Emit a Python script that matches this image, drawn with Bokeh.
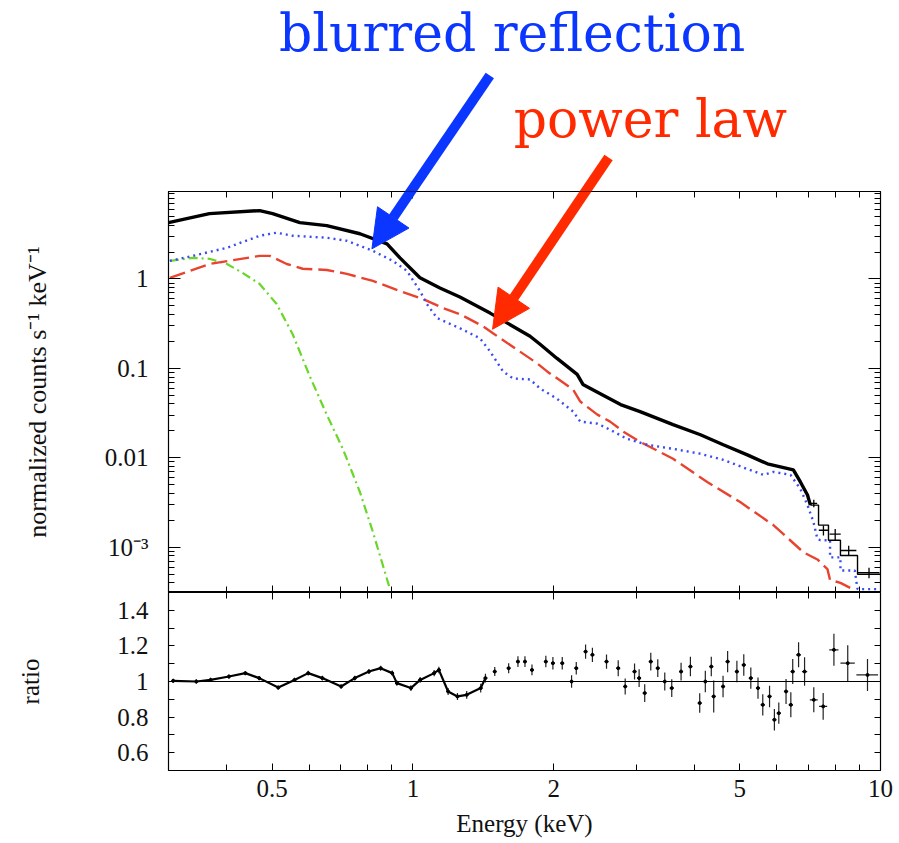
import math
from bokeh.plotting import figure
from bokeh.layouts import column
from bokeh.models import FixedTicker, LogAxis, LinearAxis, Span, Label, Arrow, NormalHead, Range1d
from bokeh.embed import file_html
from bokeh.resources import INLINE

# ---------------- data ----------------
spec_energy = [0.30, 0.367, 0.470, 0.501, 0.573, 0.654, 0.770, 0.880, 0.938, 1.035, 1.142, 1.26,
               1.462, 1.78, 1.87, 2.03, 2.245, 2.31, 2.51, 2.78, 3.06, 3.60, 4.12, 4.61, 5.19,
               5.73, 6.51, 6.74, 6.98, 7.08]
spec_flux = [4.26, 5.38, 5.81, 5.38, 4.26, 3.94, 3.20, 2.47, 1.72, 1.03, 0.792, 0.628,
             0.415, 0.229, 0.186, 0.130, 0.0857, 0.0661, 0.0524, 0.0394, 0.0329, 0.0235, 0.0181, 0.0140, 0.0108,
             0.00857, 0.00733, 0.00537, 0.00384, 0.00296]
hi_edges = [7.08, 7.37, 7.74, 8.21, 8.93, 10.0]
hi_model = [0.00296, 0.00177, 0.00120, 0.00081, 0.00050]
hi_energy = [7.20, 7.55, 8.00, 8.55, 9.45]
hi_flux = [0.0031, 0.00155, 0.00140, 0.00092, 0.00052]
hi_ferr = [0.0003, 0.00020, 0.00020, 0.00012, 0.00007]
hi_xerr = [0.12, 0.17, 0.22, 0.33, 0.50]

blue_energy = [0.302, 0.338, 0.400, 0.470, 0.511, 0.553, 0.654, 0.722, 0.821, 0.906, 0.971, 1.035,
               1.071, 1.126, 1.26, 1.391, 1.462, 1.558, 1.637, 1.78, 1.87, 2.03, 2.20, 2.28, 2.48,
               2.64, 2.87, 3.17, 3.60, 4.12, 4.61, 5.19, 5.62, 5.90, 6.42, 6.74, 6.98, 7.19, 7.33,
               7.44, 7.80, 7.80, 8.21, 8.21, 8.81, 8.93, 10.0]
blue_flux = [1.59, 1.81, 2.23, 3.04, 3.29, 3.04, 2.89, 2.67, 2.06, 1.59, 1.23, 0.733,
             0.524, 0.365, 0.281, 0.217, 0.155, 0.0925, 0.0772, 0.0752, 0.0596, 0.046, 0.0329, 0.0254, 0.0241,
             0.0206, 0.0163, 0.0140, 0.0126, 0.0111, 0.0095, 0.0075, 0.00644, 0.00697, 0.00644, 0.00449, 0.00296,
             0.00191, 0.00123, 0.0012, 0.0012, 0.00077, 0.00077, 0.00055, 0.00055, 0.00034, 0.00034]

red_energy = [0.302, 0.367, 0.470, 0.494, 0.537, 0.581, 0.654, 0.722, 0.821, 0.938, 1.05, 1.16, 1.26,
              1.412, 1.483, 1.843, 1.936, 2.20, 2.28, 2.48, 2.64, 2.82, 3.06, 3.60, 4.26, 5.01, 5.90,
              6.84, 7.33, 7.70, 7.80, 8.21, 8.63]
red_flux = [1.03, 1.47, 1.81, 1.81, 1.47, 1.30, 1.26, 1.14, 0.95, 0.733, 0.596, 0.472, 0.404,
            0.296, 0.247, 0.114, 0.0925, 0.058, 0.0426, 0.0304, 0.0254, 0.0196, 0.0151, 0.00975, 0.00537,
            0.0032, 0.00177, 0.00088, 0.00073, 0.00057, 0.00043, 0.00040, 0.00035]

green_energy = [0.302, 0.338, 0.367, 0.400, 0.432, 0.470, 0.511, 0.553, 0.602, 0.654, 0.708, 0.770, 0.821, 0.893]
green_flux = [1.59, 1.72, 1.68, 1.47, 1.17, 0.879, 0.524, 0.241, 0.081, 0.0304, 0.0126, 0.00415, 0.00148, 0.00034]

ratio_energy = [0.307, 0.344, 0.369, 0.404, 0.438, 0.469, 0.515, 0.558, 0.597, 0.640, 0.702, 0.751, 0.805,
                0.853, 0.903, 0.924, 0.990, 1.036, 1.110, 1.136, 1.189, 1.245, 1.303, 1.396, 1.429,
                1.496, 1.602, 1.677, 1.736, 1.797, 1.924, 1.992, 2.086, 2.184, 2.235, 2.34, 2.42,
                2.594, 2.748, 2.844, 2.978, 3.046, 3.131, 3.226, 3.339, 3.456, 3.577, 3.745, 3.921, 4.105,
                4.22, 4.346, 4.398, 4.605, 4.71, 4.93, 5.10, 5.28, 5.47, 5.60, 5.79, 5.93, 6.06, 6.28, 6.43, 6.49,
                6.68, 6.88, 7.20, 7.54, 7.95, 8.51, 9.38]
ratio_value = [1.004, 1.0, 1.009, 1.028, 1.047, 1.019, 0.966, 1.009, 1.047, 1.019, 0.972, 1.019, 1.056,
               1.075, 1.047, 0.991, 0.963, 1.009, 1.047, 1.065, 0.944, 0.916, 0.925, 0.963, 1.019,
               1.056, 1.075, 1.112, 1.112, 1.065, 1.112, 1.103, 1.103, 1.0, 1.075, 1.168, 1.15,
               1.112, 1.075, 0.972, 1.056, 1.019, 0.935, 1.112, 1.075, 1.0, 0.963, 1.056, 1.084, 0.879,
               1.0, 1.084, 0.916, 0.972, 1.112, 1.056, 1.093, 1.019, 0.963, 0.869, 0.916, 0.785, 0.822, 0.944,
               0.869, 1.056, 1.15, 1.056, 0.897, 0.86, 1.178, 1.103, 1.037]
ratio_err = [0.012, 0.012, 0.012, 0.012, 0.012, 0.012, 0.012, 0.012, 0.013, 0.013, 0.013, 0.014, 0.014,
             0.014, 0.015, 0.015, 0.016, 0.016, 0.018, 0.018, 0.02, 0.02, 0.022, 0.025, 0.025,
             0.025, 0.028, 0.03, 0.03, 0.03, 0.032, 0.035, 0.035, 0.035, 0.035, 0.04, 0.04,
             0.04, 0.045, 0.045, 0.045, 0.05, 0.05, 0.05, 0.05, 0.05, 0.05, 0.05, 0.055, 0.055,
             0.06, 0.055, 0.09, 0.06, 0.06, 0.06, 0.06, 0.06, 0.06, 0.06, 0.06, 0.06, 0.06, 0.07, 0.07, 0.07,
             0.07, 0.08, 0.07, 0.075, 0.09, 0.1, 0.09]
ratio_xerr = [0.003, 0.003, 0.003, 0.004, 0.004, 0.004, 0.005, 0.005, 0.005, 0.006, 0.006, 0.007, 0.007,
              0.008, 0.008, 0.008, 0.009, 0.009, 0.010, 0.010, 0.011, 0.011, 0.012, 0.013, 0.013,
              0.014, 0.015, 0.016, 0.016, 0.017, 0.018, 0.019, 0.02, 0.02, 0.021, 0.022, 0.023,
              0.025, 0.027, 0.028, 0.03, 0.03, 0.031, 0.032, 0.033, 0.034, 0.036, 0.037, 0.039, 0.041,
              0.043, 0.044, 0.045, 0.047, 0.048, 0.05, 0.052, 0.054, 0.056, 0.058, 0.06, 0.062, 0.064, 0.066,
              0.068, 0.07, 0.08, 0.09, 0.14, 0.15, 0.18, 0.30, 0.50]

x_major = [0.5, 1, 2, 5, 10]
x_minor = [0.3, 0.4, 0.6, 0.7, 0.8, 0.9, 3, 4, 6, 7, 8, 9]
x_labels = {0.5: "0.5", 1: "1", 2: "2", 5: "5", 10: "10"}
y_major = [0.001, 0.01, 0.1, 1]
y_minor = [m * 10.0 ** e for e in range(-4, 1) for m in range(2, 10)]
y_labels = {0.001: "10\u207b\u00b3", 0.01: "0.01", 0.1: "0.1", 1: "1"}
r_major = [0.6, 0.8, 1.0, 1.2, 1.4]
r_minor = [0.5, 0.7, 0.9, 1.1, 1.3, 1.5]
r_labels = {0.6: "0.6", 0.8: "0.8", 1.0: "1", 1.2: "1.2", 1.4: "1.4"}

# call-outs (positions in data units: keV, counts s^-1 keV^-1)
ann_blue = dict(text="blurred reflection", x=1.63, y=581.0, tail=(1.46, 191.0), tip=(0.817, 2.17))
ann_red = dict(text="power law", x=3.22, y=62.8, tail=(2.62, 22.9), tip=(1.48, 0.274))

# ---------------- styles / layout ----------------
SERIF = "Liberation Serif"
ANN_FONT = "DejaVu Serif"
TICK_FS = "25px"
LABEL_FS = "25px"
C_BLUE = "#3a4cf0"
C_RED = "#e8432e"
C_GREEN = "#6ad62a"
C_ANN_BLUE = "#0a36ff"
C_ANN_RED = "#ff2a00"
TEXT_C = "#111111"

W = 899
BORDER_L, BORDER_R = 168, 19
ANN_H = 191          # call-out strip above the spectrum panel
TOP_FRAME_H = 399    # spectrum panel frame height
FLUX_MIN, FLUX_MAX = 3.12e-4, 9.5


def style_axis(ax, ticks, minor, labels=None, show_labels=True, major_in=10, minor_in=5):
    ax.ticker = FixedTicker(ticks=ticks, minor_ticks=minor)
    ax.major_tick_in = major_in
    ax.major_tick_out = 0
    ax.minor_tick_in = minor_in
    ax.minor_tick_out = 0
    ax.axis_line_color = "black"
    ax.major_tick_line_color = "black"
    ax.minor_tick_line_color = "black"
    ax.axis_line_width = 1.2
    if show_labels:
        ax.major_label_overrides = labels
        ax.major_label_text_font = SERIF
        ax.major_label_text_font_size = TICK_FS
        ax.major_label_text_color = TEXT_C
    else:
        ax.major_label_overrides = {t: "" for t in ticks}
        ax.major_label_text_font_size = "1px"
        ax.major_label_standoff = 0


def style_label(ax, text, size, standoff):
    ax.axis_label = text
    ax.axis_label_text_font = SERIF
    ax.axis_label_text_font_size = size
    ax.axis_label_text_font_style = "normal"
    ax.axis_label_text_color = TEXT_C
    ax.axis_label_standoff = standoff


x_range = Range1d(0.3, 10.0)

# call-out strip: continues the spectrum panel's log scale upward so the arrows join up
px_per_decade = TOP_FRAME_H / math.log10(FLUX_MAX / FLUX_MIN)
ann_top = FLUX_MAX * 10 ** (ANN_H / px_per_decade)
pa = figure(width=W, height=ANN_H, x_axis_type="log", y_axis_type="log",
            x_range=x_range, y_range=Range1d(FLUX_MAX, ann_top),
            x_axis_location=None, y_axis_location=None,
            output_backend="svg", toolbar_location=None,
            min_border_left=BORDER_L, min_border_right=BORDER_R, min_border_top=0, min_border_bottom=0)
pa.outline_line_color = None
pa.xgrid.visible = False
pa.ygrid.visible = False

# ---------------- spectrum panel ----------------
p1 = figure(width=W, height=TOP_FRAME_H + 2, x_axis_type="log", y_axis_type="log",
            x_range=x_range, y_range=Range1d(FLUX_MIN, FLUX_MAX),
            output_backend="svg", toolbar_location=None,
            min_border_left=BORDER_L, min_border_right=BORDER_R, min_border_top=0, min_border_bottom=0)
p1.outline_line_color = "black"
p1.xgrid.visible = False
p1.ygrid.visible = False

style_axis(p1.xaxis[0], x_major, x_minor, show_labels=False, major_in=7, minor_in=6)
style_axis(p1.yaxis[0], y_major, y_minor, labels=y_labels, major_in=12, minor_in=6)
p1.yaxis[0].major_label_standoff = 20
style_label(p1.yaxis[0], "normalized counts s\u207b\u00b9 keV\u207b\u00b9", "26px", 50)

ax_top = LogAxis()
style_axis(ax_top, x_major, x_minor, show_labels=False, major_in=7, minor_in=6)
p1.add_layout(ax_top, "above")
ax_right = LogAxis()
style_axis(ax_right, y_major, y_minor, show_labels=False, major_in=12, minor_in=6)
p1.add_layout(ax_right, "right")

p1.line(green_energy, green_flux, line_color=C_GREEN, line_width=2.2, line_dash="9 4 2 4")
p1.line(red_energy, red_flux, line_color=C_RED, line_width=2.4, line_dash="16 6")
p1.line(blue_energy, blue_flux, line_color=C_BLUE, line_width=2.4, line_dash="2 4")

p1.line(spec_energy, spec_flux, line_color="black", line_width=3.4)
step_x, step_y = [], []
for i, v in enumerate(hi_model):
    step_x += [hi_edges[i], hi_edges[i + 1]]
    step_y += [v, v]
p1.line(step_x, step_y, line_color="black", line_width=1.4)
p1.segment(x0=hi_energy, y0=[f - e for f, e in zip(hi_flux, hi_ferr)],
           x1=hi_energy, y1=[f + e for f, e in zip(hi_flux, hi_ferr)], line_color="black", line_width=1.3)
p1.segment(x0=[e - d for e, d in zip(hi_energy, hi_xerr)], y0=hi_flux,
           x1=[e + d for e, d in zip(hi_energy, hi_xerr)], y1=hi_flux, line_color="black", line_width=1.3)

# call-out texts and arrows (the arrows are drawn in both strips; each clips to its own frame)
for ann, col in ((ann_blue, C_ANN_BLUE), (ann_red, C_ANN_RED)):
    pa.add_layout(Label(x=ann["x"], y=ann["y"], text=ann["text"], text_align="center",
                        text_baseline="middle", text_font=ANN_FONT, text_font_size="52px",
                        text_color=col))
    for fig in (pa, p1):
        fig.add_layout(Arrow(end=NormalHead(size=38, fill_color=col, line_color=col),
                             x_start=ann["tail"][0], y_start=ann["tail"][1],
                             x_end=ann["tip"][0], y_end=ann["tip"][1],
                             line_color=col, line_width=10))

# ---------------- ratio panel ----------------
p2 = figure(width=W, height=251, x_axis_type="log",
            x_range=x_range, y_range=Range1d(0.5, 1.5),
            output_backend="svg", toolbar_location=None,
            min_border_left=BORDER_L, min_border_right=BORDER_R, min_border_top=0, min_border_bottom=73)
p2.outline_line_color = "black"
p2.xgrid.visible = False
p2.ygrid.visible = False

style_axis(p2.xaxis[0], x_major, x_minor, labels=x_labels, major_in=7, minor_in=6)
p2.xaxis[0].major_label_standoff = 9
style_label(p2.xaxis[0], "Energy (keV)", LABEL_FS, 10)

style_axis(p2.yaxis[0], r_major, r_minor, labels=r_labels, major_in=6, minor_in=6)
p2.yaxis[0].major_label_standoff = 20
style_label(p2.yaxis[0], "ratio", LABEL_FS, 70)

ax_top2 = LogAxis()
style_axis(ax_top2, x_major, x_minor, show_labels=False, major_in=7, minor_in=6)
p2.add_layout(ax_top2, "above")
ax_right2 = LinearAxis()
style_axis(ax_right2, r_major, r_minor, show_labels=False, major_in=6, minor_in=6)
p2.add_layout(ax_right2, "right")

p2.add_layout(Span(location=1.0, dimension="width", line_color="black", line_width=1.2))

n_dense = 25
p2.line(ratio_energy[:n_dense], ratio_value[:n_dense], line_color="black", line_width=2.2)
p2.segment(x0=ratio_energy, y0=[r - e for r, e in zip(ratio_value, ratio_err)],
           x1=ratio_energy, y1=[r + e for r, e in zip(ratio_value, ratio_err)], line_color="#222222", line_width=1.2)
p2.segment(x0=[e - d for e, d in zip(ratio_energy, ratio_xerr)], y0=ratio_value,
           x1=[e + d for e, d in zip(ratio_energy, ratio_xerr)], y1=ratio_value, line_color="#222222", line_width=1.2)
p2.scatter(ratio_energy, ratio_value, size=3, color="black")

layout = column(pa, p1, p2, spacing=0)
open("out.html", "w").write(file_html(layout, INLINE))
